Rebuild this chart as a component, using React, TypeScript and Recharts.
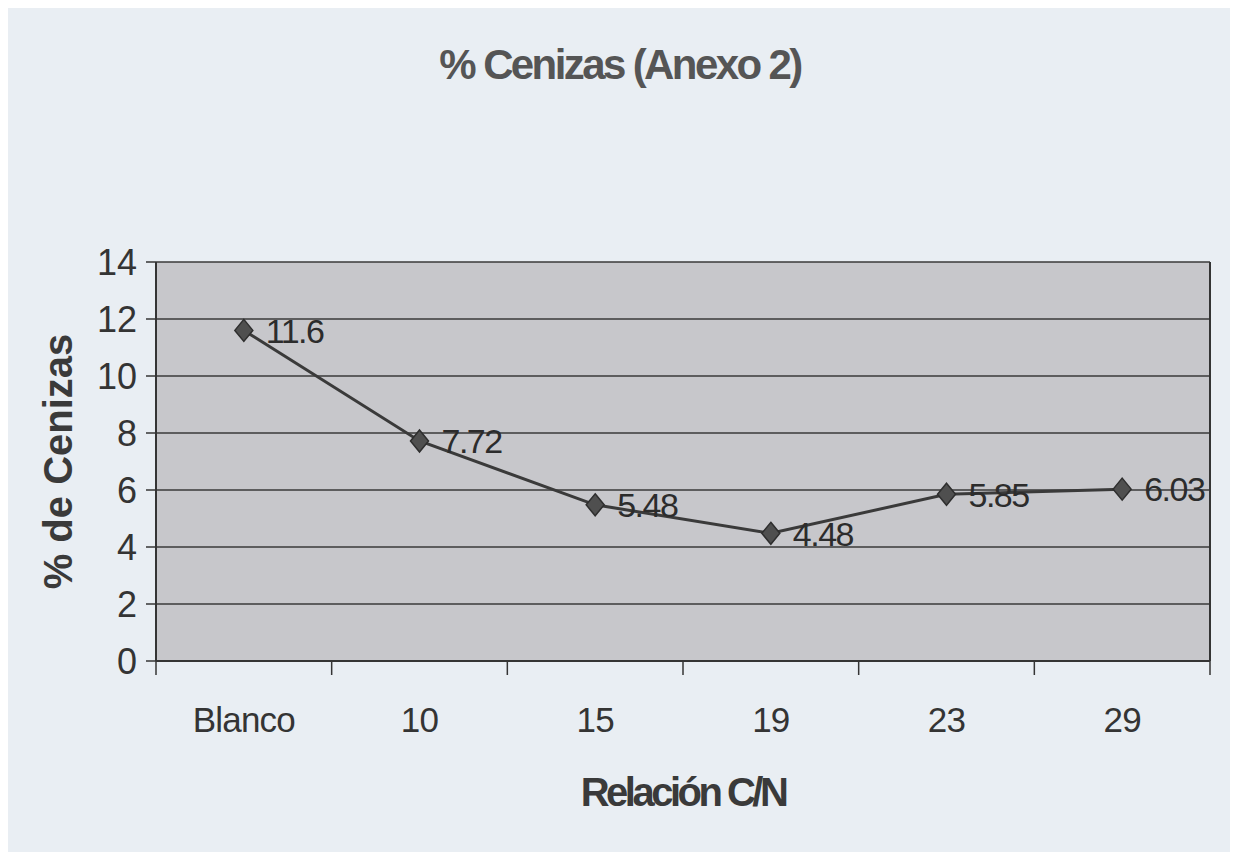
import { LineChart, Line, XAxis, YAxis, CartesianGrid, LabelList } from "recharts";

const CATEGORIES = ["Blanco", "10", "15", "19", "23", "29"];
const CENIZAS = [11.6, 7.72, 5.48, 4.48, 5.85, 6.03];
const Y_TICKS = [0, 2, 4, 6, 8, 10, 12, 14];

const data = CATEGORIES.map((relacion, i) => ({ relacion, cenizas: CENIZAS[i] }));

const FONT = "'Liberation Sans', Arial, sans-serif";
const INK = "#343434";
const X_LABEL_GAP = 46; // axis line to top of category text
const X_TICK_LEN = 14;

function Diamond(props: any) {
  const { cx, cy } = props;
  if (cx == null || cy == null) return null;
  return (
    <polygon
      points={`${cx},${cy - 11} ${cx + 9},${cy} ${cx},${cy + 11} ${cx - 9},${cy}`}
      fill="#4f4f4f"
      stroke="#2e2e2e"
      strokeWidth={1.5}
    />
  );
}

function ValueLabel(props: any) {
  const { x, y, value } = props;
  return (
    <text
      x={x + 22}
      y={y}
      dy="0.36em"
      fontFamily={FONT}
      fontSize={34}
      letterSpacing={-1.5}
      fill="#2c2c2c"
    >
      {String(value)}
    </text>
  );
}

// category label plus the tick marks on the band edges (Excel style)
function CategoryTick(props: any) {
  const { x, y, payload, index } = props;
  const half = payload?.offset ?? 0;
  const axisY = y - X_LABEL_GAP;
  const isLast = index === CATEGORIES.length - 1;
  return (
    <g>
      <line x1={x - half} x2={x - half} y1={axisY} y2={axisY + X_TICK_LEN} stroke={INK} strokeWidth={1.5} />
      {isLast && (
        <line x1={x + half} x2={x + half} y1={axisY} y2={axisY + X_TICK_LEN} stroke={INK} strokeWidth={1.5} />
      )}
      <text
        x={x}
        y={y}
        dy="0.71em"
        textAnchor="middle"
        fontFamily={FONT}
        fontSize={35}
        letterSpacing={-0.8}
        fill={INK}
      >
        {payload.value}
      </text>
    </g>
  );
}

export default function App() {
  return (
    <div
      style={{
        position: "relative",
        margin: -8,
        width: 1238,
        height: 860,
        background: "#e9eef3",
        fontFamily: FONT,
        overflow: "hidden",
      }}
    >
      <div
        style={{
          position: "absolute",
          left: 5,
          top: 4,
          width: 1227,
          height: 851,
          border: "2px solid #4a4a4a",
        }}
      />
      <div
        style={{
          position: "absolute",
          left: 0,
          top: 44,
          width: 1240,
          textAlign: "center",
          fontSize: 42,
          lineHeight: "42px",
          fontWeight: 700,
          letterSpacing: -2.6,
          color: "#555555",
        }}
      >
        % Cenizas (Anexo 2)
      </div>
      <div style={{ position: "absolute", left: 0, top: 0 }}>
        <LineChart
          width={1238}
          height={860}
          data={data}
          margin={{ top: 262, right: 0, bottom: 0, left: 0 }}
        >
          <CartesianGrid
            vertical={false}
            fill="#c7c7cb"
            fillOpacity={1}
            stroke="#3a3a3a"
            strokeWidth={1.5}
          />
          <XAxis
            dataKey="relacion"
            scale="band"
            height={199}
            tickLine={false}
            axisLine={{ stroke: INK, strokeWidth: 2 }}
            tickSize={0}
            tickMargin={X_LABEL_GAP}
            interval={0}
            tick={<CategoryTick />}
            label={{
              value: "Relación C/N",
              position: "insideBottom",
              offset: 54,
              fontSize: 40,
              fontWeight: 700,
              letterSpacing: -3.5,
              fill: "#3a3a3a",
              fontFamily: FONT,
            }}
          />
          <YAxis
            width={156}
            domain={[0, 14]}
            ticks={Y_TICKS}
            interval={0}
            tickSize={10}
            tickMargin={9}
            tickLine={{ stroke: INK, strokeWidth: 1.5 }}
            axisLine={{ stroke: INK, strokeWidth: 2 }}
            tick={{ fontSize: 36, fill: INK, fontFamily: FONT }}
            label={{
              value: "% de Cenizas",
              angle: -90,
              position: "insideLeft",
              offset: 58,
              fontSize: 40,
              fontWeight: 700,
              fill: "#3a3a3a",
              fontFamily: FONT,
              style: { textAnchor: "middle" },
            }}
          />
          <YAxis
            yAxisId="frame"
            orientation="right"
            width={28}
            domain={[0, 14]}
            tick={false}
            tickLine={false}
            axisLine={{ stroke: INK, strokeWidth: 2 }}
          />
          <Line
            type="linear"
            dataKey="cenizas"
            stroke="#3a3a3a"
            strokeWidth={3}
            dot={<Diamond />}
            activeDot={false}
            isAnimationActive={false}
          >
            <LabelList dataKey="cenizas" content={<ValueLabel />} />
          </Line>
        </LineChart>
      </div>
    </div>
  );
}
